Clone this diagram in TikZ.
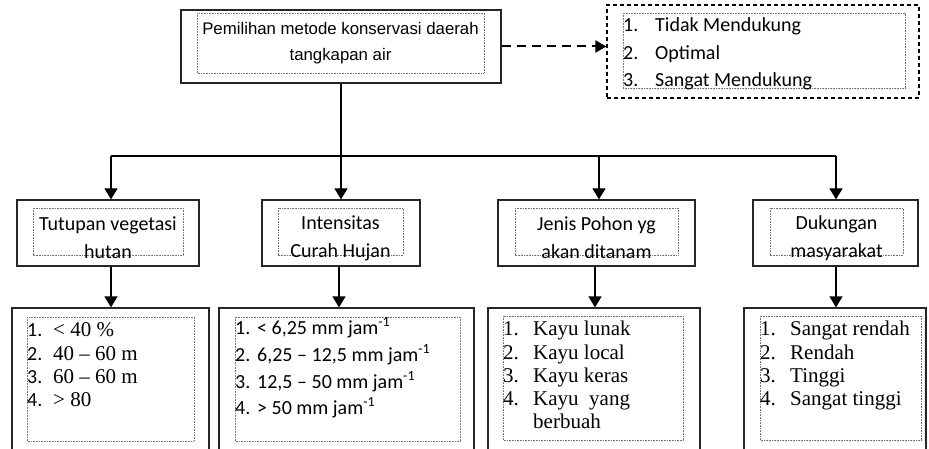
\documentclass[tikz,border=0pt]{standalone}
\usepackage{fontspec}
\setmainfont{Liberation Serif}
\newfontfamily\arialf{Liberation Sans}
\newfontfamily\calf{Carlito}
\usetikzlibrary{arrows.meta}
\begin{document}
\begin{tikzpicture}[x=1pt,y=-1pt,
  box/.style={draw=black!85, line width=1.3pt, inner sep=0pt},
  dbox/.style={draw=black, line width=1.3pt, dash pattern=on 4pt off 3pt, inner sep=0pt},
  dotbox/.style={draw=black!55, line width=0.7pt, dash pattern=on 0.8pt off 0.8pt},
  conn/.style={line width=1.3pt, -{Triangle[width=13pt,length=11pt]}},
  busline/.style={line width=1.3pt},
  dconn/.style={line width=2pt, dash pattern=on 9pt off 6pt, -{Triangle[width=12pt,length=11pt]}},
  tx/.style={inner sep=0pt, anchor=base west},
  cal/.style={font=\calf\fontsize{20}{28}\selectfont},
  tim/.style={font=\fontsize{21}{24}\selectfont},
  hd/.style={inner sep=0pt, align=center, font=\calf\fontsize{20}{28}\selectfont}]
\useasboundingbox (0,0) rectangle (929,449);
\clip (0,0) rectangle (929,449);

% top box
\node[box, minimum width=320pt, minimum height=73pt] (top) at (341,46.5) {};
\draw[dotbox] (197,13) rectangle (484,73);
\node[inner sep=0pt, align=center, font=\arialf\fontsize{16.8}{26}\selectfont] (ttop) at (340.5,43) {Pemilihan metode konservasi daerah\\tangkapan air};

% dashed result box
\node[dbox, minimum width=312pt, minimum height=93pt] (res) at (763,51.5) {};
\draw[dotbox] (623,13) rectangle (905,88);
\node[tx, cal] (r1n) at (623,32) {1.};
\node[tx, cal] (r1t) at (655,32) {Tidak Mendukung};
\node[tx, cal] (r2n) at (623,60) {2.};
\node[tx, cal] (r2t) at (655,60) {Optimal};
\node[tx, cal] (r3n) at (623,87) {3.};
\node[tx, cal] (r3t) at (655,87) {Sangat Mendukung};

% level 2
\node[box, minimum width=182pt, minimum height=66pt] (a) at (108,233) {};
\node[box, minimum width=158pt, minimum height=66pt] (b) at (341,233) {};
\node[box, minimum width=197pt, minimum height=66pt] (c) at (596.5,233) {};
\node[box, minimum width=165pt, minimum height=66pt] (d) at (835.5,233) {};
\draw[dotbox] (33,208) rectangle (183,255);
\draw[dotbox] (278,208) rectangle (403,255);
\draw[dotbox] (515,208) rectangle (678,255);
\draw[dotbox] (770,208) rectangle (903,255);
\node[hd] (ta) at (108,238) {Tutupan vegetasi\\hutan};
\node[hd] (tb) at (340.5,238) {Intensitas\\Curah Hujan};
\node[hd] (tc) at (596.5,238) {Jenis Pohon yg\\akan ditanam};
\node[hd] (td) at (836.5,238) {Dukungan\\masyarakat};

% level 3
\node[box, minimum width=197pt, minimum height=162pt] (la) at (110.5,389) {};
\node[box, minimum width=255pt, minimum height=162pt] (lb) at (346.5,389) {};
\node[box, minimum width=212pt, minimum height=162pt] (lc) at (594,389) {};
\node[box, minimum width=182pt, minimum height=162pt] (ld) at (835,389) {};
\draw[dotbox] (27,317) rectangle (194,441);
\draw[dotbox] (235,317) rectangle (460,441);
\draw[dotbox] (503,316) rectangle (683,440);
\draw[dotbox] (760,316) rectangle (921,440);

% list a
\node[tx, cal] (a1n) at (27,336) {1.};
\node[tx, tim] (a1t) at (53,336) {< 40 \%};
\node[tx, cal] (a2n) at (27,360) {2.};
\node[tx, tim] (a2t) at (53,360) {40 – 60 m};
\node[tx, cal] (a3n) at (27,383) {3.};
\node[tx, tim] (a3t) at (53,383) {60 – 60 m};
\node[tx, cal] (a4n) at (27,406) {4.};
\node[tx, tim] (a4t) at (53,406) {> 80};

% list b
\node[tx, cal] (b1n) at (235,334) {1.};
\node[tx, cal] (b1t) at (257,334) {< 6,25 mm jam\textsuperscript{-1}};
\node[tx, cal] (b2n) at (235,361) {2.};
\node[tx, cal] (b2t) at (257,361) {6,25 – 12,5 mm jam\textsuperscript{-1}};
\node[tx, cal] (b3n) at (235,388) {3.};
\node[tx, cal] (b3t) at (257,388) {12,5 – 50 mm jam\textsuperscript{-1}};
\node[tx, cal] (b4n) at (235,414) {4.};
\node[tx, cal] (b4t) at (257,414) {> 50 mm jam\textsuperscript{-1}};

% list c
\node[tx, tim] (c1n) at (503,335) {1.};
\node[tx, tim] (c1t) at (533,335) {Kayu lunak};
\node[tx, tim] (c2n) at (503,359) {2.};
\node[tx, tim] (c2t) at (533,359) {Kayu local};
\node[tx, tim] (c3n) at (503,382) {3.};
\node[tx, tim] (c3t) at (533,382) {Kayu keras};
\node[tx, tim] (c4n) at (503,405) {4.};
\node[tx, tim] (c4t) at (533,405) {Kayu\ \ yang};
\node[tx, tim] (c5t) at (533,428) {berbuah};

% list d
\node[tx, tim] (d1n) at (760,335) {1.};
\node[tx, tim] (d1t) at (790,335) {Sangat rendah};
\node[tx, tim] (d2n) at (760,359) {2.};
\node[tx, tim] (d2t) at (790,359) {Rendah};
\node[tx, tim] (d3n) at (760,382) {3.};
\node[tx, tim] (d3t) at (790,382) {Tinggi};
\node[tx, tim] (d4n) at (760,405) {4.};
\node[tx, tim] (d4t) at (790,405) {Sangat tinggi};

% connectors
\coordinate (bus) at (341,156);
\draw[busline] (top.south) -- (bus);
\draw[busline] ([xshift=3pt]a.north |- bus) -- ([xshift=0.5pt]d.north |- bus);
\draw[conn] ([xshift=3pt]a.north |- bus) -- ([xshift=3pt]a.north);
\draw[conn] (bus) -- (b.north);
\draw[conn] ([xshift=2.5pt]c.north |- bus) -- ([xshift=2.5pt]c.north);
\draw[conn] ([xshift=0.5pt]d.north |- bus) -- ([xshift=0.5pt]d.north);
\draw[conn] ([xshift=3pt]a.south) -- ([xshift=3pt]a.south |- la.north);
\draw[conn] ([xshift=-2pt]b.south) -- ([xshift=-2pt]b.south |- lb.north);
\draw[conn] ([xshift=-1.5pt]c.south) -- ([xshift=-1.5pt]c.south |- lc.north);
\draw[conn] ([xshift=0.5pt]d.south) -- ([xshift=0.5pt]d.south |- ld.north);
\draw[dconn] (top.east) -- (res.west |- top.east);
\end{tikzpicture}
\end{document}
